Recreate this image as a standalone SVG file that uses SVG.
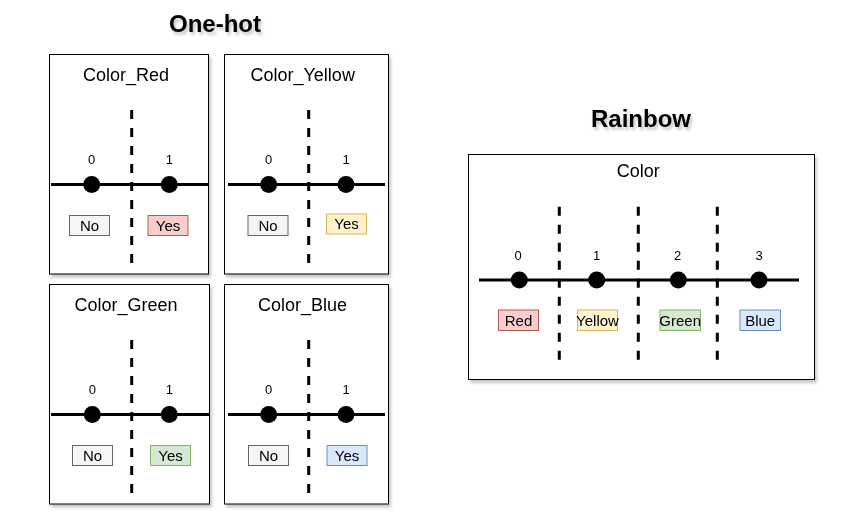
<svg xmlns="http://www.w3.org/2000/svg" width="846" height="516" viewBox="0 0 846 516">
  <defs>
    <filter id="sh" x="-20%" y="-20%" width="140%" height="140%">
      <feDropShadow dx="2" dy="3" stdDeviation="1.5" flood-color="#000" flood-opacity="0.22"/>
    </filter>
  </defs>
  <style>
    text { font-family: "Liberation Sans", Arial, sans-serif; fill: #000; text-anchor: middle; }
    .h { font-size: 24px; font-weight: bold; }
    .t { font-size: 18px; }
    .n { font-size: 13px; }
    .l { font-size: 15px; }
    .panel { fill: #fff; stroke: #000; stroke-width: 1; }
    .axis { stroke: #000; stroke-width: 3; fill: none; }
    .dash { stroke: #000; stroke-width: 3; stroke-dasharray: 9 9; fill: none; }
    .dot { fill: #000; }
    .no { fill: #f5f5f5; stroke: #666666; stroke-width: 1; }
    .red { fill: #f8cecc; stroke: #b85450; stroke-width: 1; }
    .yel { fill: #fff2cc; stroke: #d6b656; stroke-width: 1; }
    .grn { fill: #d5e8d4; stroke: #82b366; stroke-width: 1; }
    .blu { fill: #dae8fc; stroke: #6c8ebf; stroke-width: 1; }
  </style>
  <g filter="url(#sh)">
    <text class="h" x="215" y="32">One-hot</text>
    <text class="h" x="641" y="127">Rainbow</text>

    <g id="color_red">
      <rect class="panel" x="49.5" y="54.5" width="159" height="219.5"/>
      <text class="t" x="126" y="81">Color_Red</text>
      <text class="n" x="91.7" y="164">0</text>
      <text class="n" x="169.3" y="164">1</text>
      <rect class="no" x="69.5" y="215.5" width="40" height="20"/>
      <text class="l" x="89.5" y="230.8">No</text>
      <rect class="red" x="148" y="215.5" width="40" height="20"/>
      <text class="l" x="168" y="230.8">Yes</text>
    </g>
    <g id="color_yellow">
      <rect class="panel" x="224.5" y="54.5" width="164" height="219.5"/>
      <text class="t" x="302.7" y="81">Color_Yellow</text>
      <text class="n" x="268.7" y="164">0</text>
      <text class="n" x="346" y="164">1</text>
      <rect class="no" x="248" y="215.5" width="40" height="20"/>
      <text class="l" x="268" y="230.8">No</text>
      <rect class="yel" x="326.5" y="214" width="40" height="20"/>
      <text class="l" x="346.5" y="229.3">Yes</text>
    </g>
    <g id="color_green">
      <rect class="panel" x="49.5" y="284.5" width="160" height="219.5"/>
      <text class="t" x="126" y="311">Color_Green</text>
      <text class="n" x="92.3" y="394">0</text>
      <text class="n" x="169.3" y="394">1</text>
      <rect class="no" x="72.5" y="445.5" width="40" height="20"/>
      <text class="l" x="92.5" y="460.8">No</text>
      <rect class="grn" x="150.5" y="445.5" width="40" height="20"/>
      <text class="l" x="170.5" y="460.8">Yes</text>
    </g>
    <g id="color_blue">
      <rect class="panel" x="224.5" y="284.5" width="164" height="219.5"/>
      <text class="t" x="302.5" y="311">Color_Blue</text>
      <text class="n" x="268.7" y="394">0</text>
      <text class="n" x="346" y="394">1</text>
      <rect class="no" x="248.5" y="445.5" width="40" height="20"/>
      <text class="l" x="268.5" y="460.8">No</text>
      <rect class="blu" x="327" y="445.5" width="40" height="20"/>
      <text class="l" x="347" y="460.8">Yes</text>
    </g>
    <g id="rainbow_color">
      <rect class="panel" x="468.5" y="154.5" width="346" height="225"/>
      <text class="t" x="638.3" y="176.5">Color</text>
      <text class="n" x="518" y="259.5">0</text>
      <text class="n" x="596.7" y="259.5">1</text>
      <text class="n" x="677.7" y="259.5">2</text>
      <text class="n" x="759" y="259.5">3</text>
      <rect class="red" x="498.5" y="310" width="40" height="20.5"/>
      <text class="l" x="518.5" y="325.5">Red</text>
      <rect class="yel" x="577.5" y="310" width="40" height="20.5"/>
      <text class="l" x="597.5" y="325.5">Yellow</text>
      <rect class="grn" x="660" y="310" width="40.5" height="20.5"/>
      <text class="l" x="680.2" y="325.5">Green</text>
      <rect class="blu" x="740" y="310" width="40.5" height="20.5"/>
      <text class="l" x="760.2" y="325.5">Blue</text>
    </g>

    <g id="connectors">
      <line class="axis" x1="51" y1="184.5" x2="208" y2="184.5"/>
      <line class="dash" x1="131.7" y1="110" x2="131.7" y2="264"/>
      <line class="axis" x1="228" y1="184.5" x2="385" y2="184.5"/>
      <line class="dash" x1="308.7" y1="110" x2="308.7" y2="264"/>
      <line class="axis" x1="51" y1="414.5" x2="209" y2="414.5"/>
      <line class="dash" x1="131.7" y1="340" x2="131.7" y2="494"/>
      <line class="axis" x1="228" y1="414.5" x2="385" y2="414.5"/>
      <line class="dash" x1="308.7" y1="340" x2="308.7" y2="494"/>
      <line class="axis" x1="479" y1="280" x2="799" y2="280"/>
      <line class="dash" x1="559.3" y1="206.7" x2="559.3" y2="360"/>
      <line class="dash" x1="638.3" y1="206.7" x2="638.3" y2="360"/>
      <line class="dash" x1="717.3" y1="206.7" x2="717.3" y2="360"/>
      <circle class="dot" cx="91.7" cy="184.5" r="8.5"/>
      <circle class="dot" cx="169.3" cy="184.5" r="8.5"/>
      <circle class="dot" cx="268.7" cy="184.5" r="8.5"/>
      <circle class="dot" cx="346" cy="184.5" r="8.5"/>
      <circle class="dot" cx="92.3" cy="414.5" r="8.5"/>
      <circle class="dot" cx="169.3" cy="414.5" r="8.5"/>
      <circle class="dot" cx="268.7" cy="414.5" r="8.5"/>
      <circle class="dot" cx="346" cy="414.5" r="8.5"/>
      <circle class="dot" cx="519.3" cy="280" r="8.5"/>
      <circle class="dot" cx="596.7" cy="280" r="8.5"/>
      <circle class="dot" cx="678.3" cy="280" r="8.5"/>
      <circle class="dot" cx="759" cy="280" r="8.5"/>
    </g>
  </g>
</svg>
